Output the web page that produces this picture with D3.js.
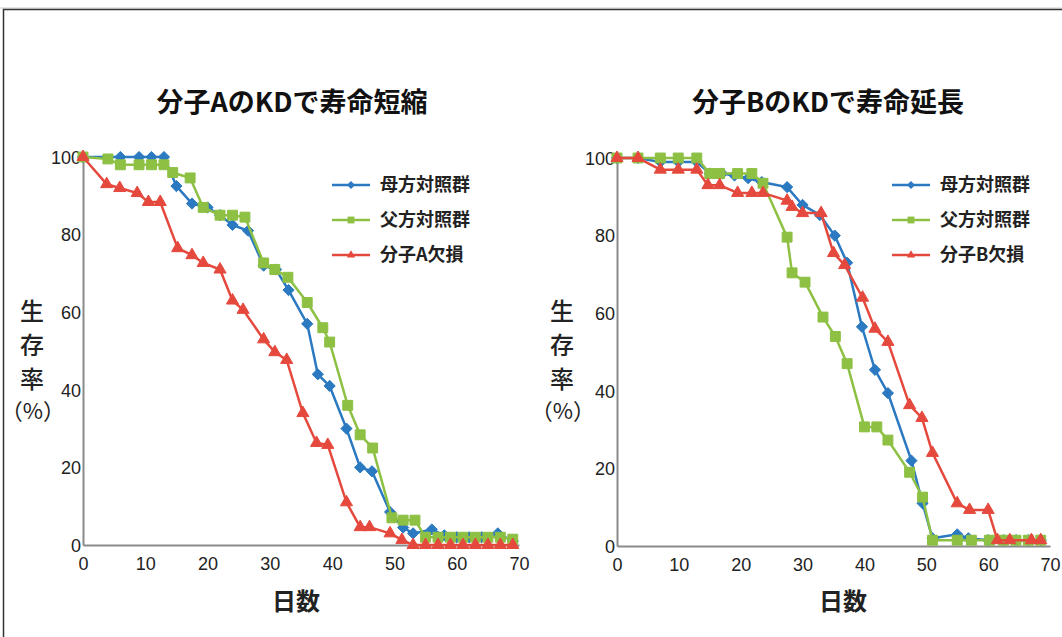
<!DOCTYPE html>
<html>
<head>
<meta charset="utf-8">
<script src="https://cdn.jsdelivr.net/npm/d3@7"></script>
<style>
  body { margin: 0; background: #fff; }
  text { font-family: "Noto Sans CJK JP", "Noto Sans", sans-serif; }
</style>
</head>
<body>
<div id="chart"></div>
<script>
// canvas size
var width = 1062;
var height = 637;

// ---- data ----
var xTicks = [0, 10, 20, 30, 40, 50, 60, 70];
var yTicks = [0, 20, 40, 60, 80, 100];
var seriesNames = ["母方対照群", "父方対照群"];
var koNameA = "分子A欠損";
var koNameB = "分子B欠損";
var titleA = "分子AのKDで寿命短縮";
var titleB = "分子BのKDで寿命延長";

// chart A
var aMatDays = [0, 6, 9, 11, 13, 15, 17.5, 20, 22, 24, 26.5, 29, 31, 33, 36, 37.7, 39.6, 42.3, 44.5, 46.4, 49.3, 51.4, 53, 56, 58, 60, 62, 64, 66.6, 69];
var aMatSurv = [100, 100, 100, 100, 100, 92.5, 88, 87, 85, 82.5, 81, 72, 71, 65.7, 57, 44, 41, 30, 20, 19, 8.5, 4.5, 3, 4, 2.5, 2, 2, 2, 3, 1];
var aPatDays = [0, 4, 6, 9, 11, 13, 14.4, 17.2, 19.3, 22, 24, 26, 29, 30.8, 32.9, 36, 38.5, 39.6, 42.5, 44.5, 46.5, 49.6, 51.4, 53.3, 55, 57, 59, 61, 63, 65, 67, 69];
var aPatSurv = [100, 99.5, 98, 98, 98, 98, 96, 94.6, 87, 85, 85, 84.5, 72.7, 71, 69, 62.5, 56, 52.3, 36, 28.4, 25, 7, 6.4, 6.4, 2, 2, 2, 2, 2, 2, 2, 1.5];
var aKoDays = [0, 3.8, 5.9, 8.7, 10.5, 12.4, 15.2, 17.5, 19.3, 22, 24, 25.7, 29, 30.8, 32.7, 35.3, 37.5, 39.3, 42.3, 44.5, 46, 49.3, 51.2, 53, 55, 57, 59, 61, 63, 65, 67, 69];
var aKoSurv = [100, 93, 92, 90.7, 88.4, 88.4, 76.5, 74.7, 72.7, 71, 63, 60.6, 53, 49.7, 47.7, 34, 26.3, 25.8, 11, 4.6, 4.6, 3, 1.3, 0, 0, 0, 0, 0, 0, 0, 0, 0];

// chart B
var bMatDays = [0, 3.4, 7, 9.9, 12.9, 15, 17, 19, 21.2, 23.4, 27.5, 30, 32.8, 35.2, 37.2, 39.6, 41.7, 43.8, 47.6, 49.4, 51, 55, 56.8, 60, 62.5, 64.5, 66.5, 68.5];
var bMatSurv = [100, 100, 99, 99, 99, 96, 96, 95.5, 94.8, 93.8, 92.5, 87.9, 85.3, 80, 73, 56.5, 45.4, 39.4, 22, 11, 2, 3, 2, 1.5, 1.5, 1.5, 1.5, 1.5];
var bPatDays = [0, 3.4, 7, 9.9, 12.9, 15, 16.6, 19.5, 21.8, 23.6, 27.5, 28.3, 30.4, 33.3, 35.3, 37.2, 40, 42, 43.8, 47.3, 49.4, 51, 55, 57.3, 60.2, 62.5, 64.5, 66.5, 68.5];
var bPatSurv = [100, 100, 100, 100, 100, 96, 96, 96, 96, 93.5, 79.6, 70.4, 68, 59, 54, 47, 30.7, 30.7, 27.3, 19, 12.6, 1.5, 1.5, 1.5, 1.5, 1.5, 1.5, 1.5, 1.5];
var bKoDays = [0, 3.4, 7, 9.9, 12.9, 14.7, 16.6, 19.5, 21.8, 23.6, 27.5, 28.3, 30, 33, 35, 36.8, 39.7, 41.7, 43.8, 47.3, 49.3, 51, 55, 57, 60, 61.5, 63.5, 67, 68.5];
var bKoSurv = [100, 100, 97, 97, 97, 93, 93, 91, 91, 91, 89, 87.4, 85.8, 85.8, 75.5, 72.4, 64, 56, 52.6, 36.3, 33, 24, 11, 9.3, 9.3, 1.5, 1.5, 1.5, 1.5];

var colors = { mat: "#2a79c1", pat: "#8dc043", ko: "#e5493d" };

function zip(days, surv) {
  return days.map(function(d, i) { return { day: d, surv: surv[i] }; });
}

var svg = d3.select("#chart")
  .append("svg")
    .attr("width", width)
    .attr("height", height);

// outer frame
svg.append("line").attr("x1", 0).attr("x2", width).attr("y1", 8).attr("y2", 8)
  .attr("stroke", "#ccc").attr("stroke-width", 1);
svg.append("rect")
  .attr("x", 3.5).attr("y", 9.5)
  .attr("width", width + 10).attr("height", height + 10)
  .attr("fill", "none").attr("stroke", "#333").attr("stroke-width", 1.5);

function drawPanel(opt) {
  var x = d3.scaleLinear().domain([0, 70]).range([opt.x0, opt.x1]);
  var y = d3.scaleLinear().domain([0, 100]).range([opt.y0, opt.y1]);
  var g = svg.append("g");

  // title
  g.append("text")
    .attr("x", opt.titleX).attr("y", 112)
    .attr("text-anchor", "middle")
    .style("font-size", "27px").style("font-weight", "bold")
    .attr("fill", "#111")
    .text(opt.title);

  // axes
  var xAxis = d3.axisBottom(x).tickValues(xTicks).tickSize(0).tickPadding(10);
  var yAxis = d3.axisLeft(y).tickValues(yTicks).tickSize(0).tickPadding(2);
  var gx = g.append("g").attr("transform", "translate(0," + opt.y0 + ")").call(xAxis);
  var gy = g.append("g").attr("transform", "translate(" + opt.x0 + ",0)").call(yAxis);
  [gx, gy].forEach(function(ax) {
    ax.select(".domain").attr("stroke", "#8a8a8a").attr("stroke-width", 2);
    ax.selectAll("text")
      .style("font-family", "'Liberation Sans', Arial, sans-serif")
      .style("font-size", "18px")
      .attr("fill", "#222");
  });
  gx.selectAll("text").attr("dy", "0.85em");
  gy.selectAll("text").attr("dy", "0.35em");

  // y label, stacked characters
  var yl = ["生", "存", "率"];
  g.selectAll(".ylab").data(yl).enter().append("text")
    .attr("x", opt.ylabX).attr("y", function(d, i) { return 320 + i * 34; })
    .attr("text-anchor", "middle")
    .style("font-size", "24px").style("font-weight", "500").attr("fill", "#222")
    .text(function(d) { return d; });
  g.append("text")
    .attr("x", opt.ylabX + 1).attr("y", 419)
    .attr("text-anchor", "middle")
    .style("font-size", "22px").attr("fill", "#222")
    .text("（%）");

  // x title
  g.append("text")
    .attr("x", opt.xtitleX).attr("y", 610)
    .attr("text-anchor", "middle")
    .style("font-size", "24px").style("font-weight", "bold").attr("fill", "#222")
    .text("日数");

  var line = d3.line().x(function(d) { return x(d.day); }).y(function(d) { return y(d.surv); });

  var series = [
    { key: "mat", data: opt.mat, shape: d3.symbolDiamond2, size: 80 },
    { key: "pat", data: opt.pat, shape: d3.symbolSquare2, size: 125 },
    { key: "ko", data: opt.ko, shape: d3.symbolTriangle2, size: 105 }
  ];

  series.forEach(function(s) {
    g.append("path")
      .datum(s.data)
      .attr("fill", "none")
      .attr("stroke", colors[s.key])
      .attr("stroke-width", 2.5)
      .attr("d", line);
    g.selectAll(".m-" + s.key).data(s.data).enter().append("path")
      .attr("transform", function(d) { return "translate(" + x(d.day) + "," + y(d.surv) + ")"; })
      .attr("d", d3.symbol().type(s.shape).size(s.size))
      .attr("fill", colors[s.key])
      .attr("stroke", colors[s.key]).attr("stroke-width", 1);
  });

  // legend
  var legRows = [
    { key: "mat", name: seriesNames[0], shape: d3.symbolDiamond2, size: 40 },
    { key: "pat", name: seriesNames[1], shape: d3.symbolSquare2, size: 60 },
    { key: "ko", name: opt.koName, shape: d3.symbolTriangle2, size: 50 }
  ];
  var leg = g.selectAll(".leg").data(legRows).enter().append("g")
    .attr("transform", function(d, i) { return "translate(" + opt.legX + "," + (185 + i * 35) + ")"; });
  leg.append("line").attr("x1", 0).attr("x2", 38)
    .attr("stroke", function(d) { return colors[d.key]; }).attr("stroke-width", 2.5);
  leg.append("path")
    .attr("transform", "translate(19,0)")
    .attr("d", function(d) { return d3.symbol().type(d.shape).size(d.size)(); })
    .attr("fill", function(d) { return colors[d.key]; });
  leg.append("text")
    .attr("x", 48).attr("y", 0).attr("dy", "0.35em")
    .style("font-size", "18px").style("font-weight", "bold").attr("fill", "#222")
    .text(function(d) { return d.name; });
}

drawPanel({
  x0: 83, x1: 519, y0: 545, y1: 157,
  title: titleA, titleX: 292, ylabX: 32, xtitleX: 296, legX: 332,
  koName: koNameA,
  mat: zip(aMatDays, aMatSurv), pat: zip(aPatDays, aPatSurv), ko: zip(aKoDays, aKoSurv)
});

drawPanel({
  x0: 617, x1: 1050, y0: 546, y1: 158,
  title: titleB, titleX: 828, ylabX: 562, xtitleX: 843, legX: 892,
  koName: koNameB,
  mat: zip(bMatDays, bMatSurv), pat: zip(bPatDays, bPatSurv), ko: zip(bKoDays, bKoSurv)
});
</script>
</body>
</html>
